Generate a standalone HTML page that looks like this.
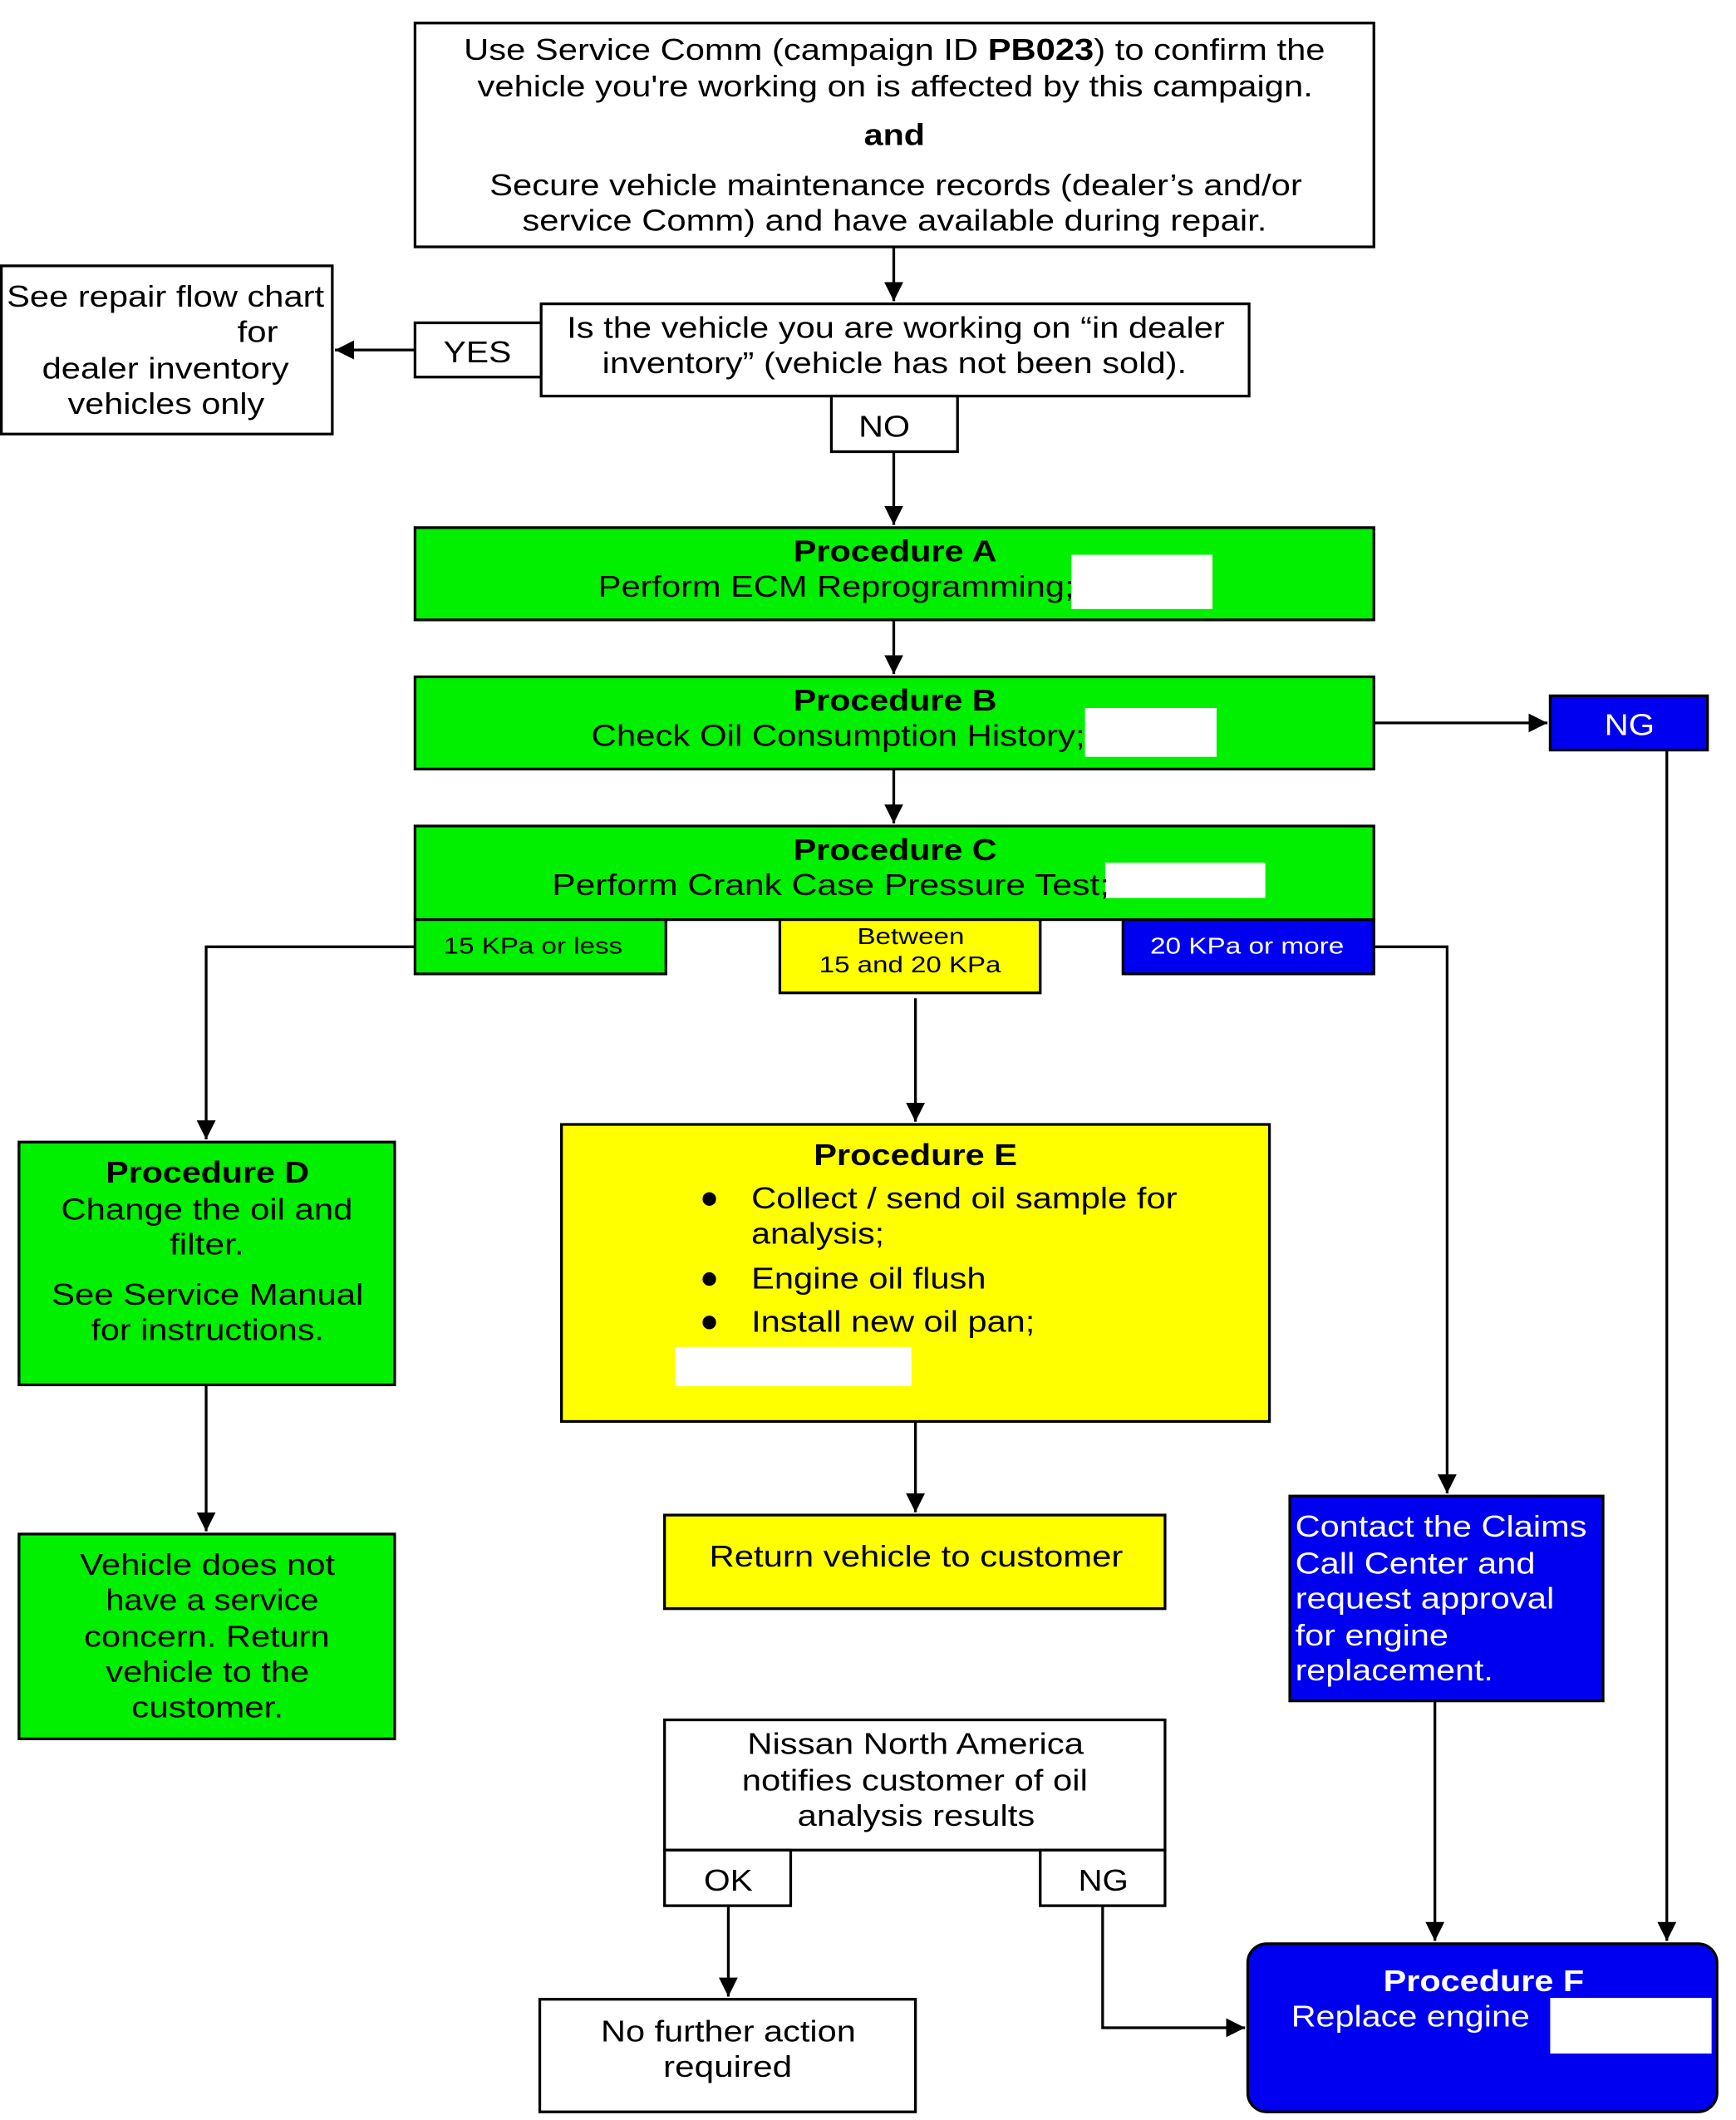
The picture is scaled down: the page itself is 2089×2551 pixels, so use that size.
<!DOCTYPE html>
<html><head><meta charset="utf-8"><style>html,body{margin:0;padding:0;background:#fff}svg{display:block}</style></head>
<body>
<svg width="2089" height="2551" viewBox="0 0 1280 1563" preserveAspectRatio="none" xmlns="http://www.w3.org/2000/svg" font-family="Liberation Sans, Arial, sans-serif" fill="#000">
<defs><marker id="a" viewBox="0 0 10 10" refX="10" refY="5" markerWidth="7" markerHeight="7" orient="auto"><path d="M0,0L10,5L0,10z" fill="#000"/></marker></defs>
<g stroke="#000" stroke-width="2" fill="none">
<rect x="306" y="17" width="707" height="165" fill="#fff"/>
<rect x="1" y="196" width="244" height="124" fill="#fff"/>
<rect x="306" y="238" width="93" height="40" fill="#fff"/>
<rect x="399" y="224" width="522" height="68" fill="#fff"/>
<rect x="613" y="292" width="93" height="41" fill="#fff"/>
<rect x="306" y="389" width="707" height="68" fill="#00f000"/>
<rect x="306" y="499" width="707" height="68" fill="#00f000"/>
<rect x="306" y="609" width="707" height="69" fill="#00f000"/>
<rect x="306" y="678" width="185" height="40" fill="#00f000"/>
<rect x="575" y="678" width="192" height="54" fill="#ffff00"/>
<rect x="828" y="678" width="185" height="40" fill="#0000f0"/>
<rect x="1143" y="513" width="116" height="40" fill="#0000f0"/>
<rect x="14" y="842" width="277" height="179" fill="#00f000"/>
<rect x="414" y="829" width="522" height="219" fill="#ffff00"/>
<rect x="14" y="1131" width="277" height="151" fill="#00f000"/>
<rect x="490" y="1117" width="369" height="69" fill="#ffff00"/>
<rect x="951" y="1103" width="231" height="151" fill="#0000f0"/>
<rect x="490" y="1268" width="369" height="96" fill="#fff"/>
<rect x="490" y="1364" width="93" height="41" fill="#fff"/>
<rect x="767" y="1364" width="92" height="41" fill="#fff"/>
<rect x="398" y="1474" width="277" height="83" fill="#fff"/>
<rect x="920" y="1433" width="346" height="124" rx="14" fill="#0000f0"/>
<path d="M659 182V222" marker-end="url(#a)"/>
<path d="M306 258H247" marker-end="url(#a)"/>
<path d="M659 333V387" marker-end="url(#a)"/>
<path d="M659 457V497" marker-end="url(#a)"/>
<path d="M659 567V607" marker-end="url(#a)"/>
<path d="M1013 533H1141" marker-end="url(#a)"/>
<path d="M306 698H152V840" marker-end="url(#a)"/>
<path d="M675 736V827" marker-end="url(#a)"/>
<path d="M1013 698H1067V1101" marker-end="url(#a)"/>
<path d="M1229 553V1431" marker-end="url(#a)"/>
<path d="M152 1021V1129" marker-end="url(#a)"/>
<path d="M675 1048V1115" marker-end="url(#a)"/>
<path d="M1058 1254V1431" marker-end="url(#a)"/>
<path d="M537 1405V1472" marker-end="url(#a)"/>
<path d="M813 1405V1495H918" marker-end="url(#a)"/>
</g>
<g fill="#fff"><rect x="790" y="409" width="104" height="40"/><rect x="800" y="522" width="97" height="36"/><rect x="815" y="636" width="118" height="26"/><rect x="498" y="993" width="174" height="29"/><rect x="1143" y="1473" width="119" height="41"/></g>
<g font-size="22" lengthAdjust="spacingAndGlyphs">
<text x="342" y="44" textLength="635" lengthAdjust="spacingAndGlyphs">Use Service Comm (campaign ID <tspan font-weight="bold">PB023</tspan>) to confirm the</text>
<text x="352" y="71" textLength="616" lengthAdjust="spacingAndGlyphs">vehicle you're working on is affected by this campaign.</text>
<text x="637" y="107" textLength="45" lengthAdjust="spacingAndGlyphs" font-weight="bold">and</text>
<text x="361" y="144" textLength="599" lengthAdjust="spacingAndGlyphs">Secure vehicle maintenance records (dealer’s and/or</text>
<text x="385" y="170" textLength="549" lengthAdjust="spacingAndGlyphs">service Comm) and have available during repair.</text>
<text x="5" y="226" textLength="234" lengthAdjust="spacingAndGlyphs">See repair flow chart</text>
<text x="175" y="252" textLength="30" lengthAdjust="spacingAndGlyphs">for</text>
<text x="31" y="279" textLength="182" lengthAdjust="spacingAndGlyphs">dealer inventory</text>
<text x="50" y="305" textLength="145" lengthAdjust="spacingAndGlyphs">vehicles only</text>
<text x="327" y="267" textLength="50" lengthAdjust="spacingAndGlyphs">YES</text>
<text x="418" y="249" textLength="485" lengthAdjust="spacingAndGlyphs">Is the vehicle you are working on “in dealer</text>
<text x="444" y="275" textLength="431" lengthAdjust="spacingAndGlyphs">inventory” (vehicle has not been sold).</text>
<text x="633" y="322" textLength="38" lengthAdjust="spacingAndGlyphs">NO</text>
<text x="585" y="414" textLength="150" lengthAdjust="spacingAndGlyphs" font-weight="bold">Procedure A</text>
<text x="441" y="440" textLength="351" lengthAdjust="spacingAndGlyphs">Perform ECM Reprogramming;</text>
<text x="585" y="524" textLength="150" lengthAdjust="spacingAndGlyphs" font-weight="bold">Procedure B</text>
<text x="436" y="550" textLength="364" lengthAdjust="spacingAndGlyphs">Check Oil Consumption History;</text>
<text x="585" y="634" textLength="150" lengthAdjust="spacingAndGlyphs" font-weight="bold">Procedure C</text>
<text x="407" y="660" textLength="411" lengthAdjust="spacingAndGlyphs">Perform Crank Case Pressure Test;</text>
<text x="1183" y="542" textLength="37" lengthAdjust="spacingAndGlyphs" fill="#fff">NG</text>
<text x="78" y="872" textLength="150" lengthAdjust="spacingAndGlyphs" font-weight="bold">Procedure D</text>
<text x="45" y="899" textLength="215" lengthAdjust="spacingAndGlyphs">Change the oil and</text>
<text x="125" y="925" textLength="55" lengthAdjust="spacingAndGlyphs">filter.</text>
<text x="38" y="962" textLength="230" lengthAdjust="spacingAndGlyphs">See Service Manual</text>
<text x="67" y="988" textLength="172" lengthAdjust="spacingAndGlyphs">for instructions.</text>
<text x="600" y="859" textLength="150" lengthAdjust="spacingAndGlyphs" font-weight="bold">Procedure E</text>
<text x="554" y="891" textLength="314" lengthAdjust="spacingAndGlyphs">Collect / send oil sample for</text>
<text x="554" y="917" textLength="98" lengthAdjust="spacingAndGlyphs">analysis;</text>
<text x="554" y="950" textLength="173" lengthAdjust="spacingAndGlyphs">Engine oil flush</text>
<text x="554" y="982" textLength="209" lengthAdjust="spacingAndGlyphs">Install new oil pan;</text>
<text x="59" y="1161" textLength="188" lengthAdjust="spacingAndGlyphs">Vehicle does not</text>
<text x="78" y="1187" textLength="157" lengthAdjust="spacingAndGlyphs">have a service</text>
<text x="62" y="1214" textLength="181" lengthAdjust="spacingAndGlyphs">concern. Return</text>
<text x="78" y="1240" textLength="150" lengthAdjust="spacingAndGlyphs">vehicle to the</text>
<text x="97" y="1266" textLength="112" lengthAdjust="spacingAndGlyphs">customer.</text>
<text x="523" y="1155" textLength="305" lengthAdjust="spacingAndGlyphs">Return vehicle to customer</text>
<text x="551" y="1293" textLength="248" lengthAdjust="spacingAndGlyphs">Nissan North America</text>
<text x="547" y="1320" textLength="255" lengthAdjust="spacingAndGlyphs">notifies customer of oil</text>
<text x="588" y="1346" textLength="175" lengthAdjust="spacingAndGlyphs">analysis results</text>
<text x="519" y="1394" textLength="36" lengthAdjust="spacingAndGlyphs">OK</text>
<text x="795" y="1394" textLength="37" lengthAdjust="spacingAndGlyphs">NG</text>
<text x="443" y="1505" textLength="188" lengthAdjust="spacingAndGlyphs">No further action</text>
<text x="489" y="1531" textLength="95" lengthAdjust="spacingAndGlyphs">required</text>
<g fill="#fff">
<text x="1020" y="1468" textLength="148" lengthAdjust="spacingAndGlyphs" font-weight="bold">Procedure F</text>
<text x="952" y="1494" textLength="176" lengthAdjust="spacingAndGlyphs">Replace engine</text>
<text x="955" y="1133" textLength="215" lengthAdjust="spacingAndGlyphs">Contact the Claims</text>
<text x="955" y="1160" textLength="177" lengthAdjust="spacingAndGlyphs">Call Center and</text>
<text x="955" y="1186" textLength="191" lengthAdjust="spacingAndGlyphs">request approval</text>
<text x="955" y="1213" textLength="113" lengthAdjust="spacingAndGlyphs">for engine</text>
<text x="955" y="1239" textLength="146" lengthAdjust="spacingAndGlyphs">replacement.</text>
</g>
<circle cx="523" cy="884" r="5"/><circle cx="523" cy="943" r="5"/><circle cx="523" cy="975" r="5"/>
</g>
<g font-size="17">
<text x="327" y="703" textLength="132" lengthAdjust="spacingAndGlyphs">15 KPa or less</text>
<text x="632" y="696" textLength="79" lengthAdjust="spacingAndGlyphs">Between</text>
<text x="604" y="717" textLength="134" lengthAdjust="spacingAndGlyphs">15 and 20 KPa</text>
<text x="848" y="703" textLength="143" lengthAdjust="spacingAndGlyphs" fill="#fff">20 KPa or more</text>
</g>
</svg>
</body></html>
